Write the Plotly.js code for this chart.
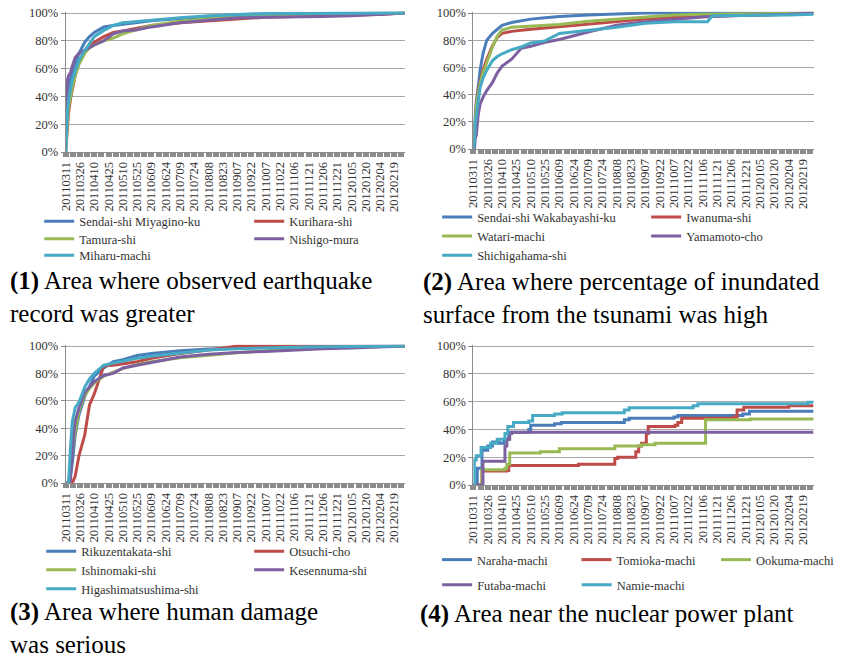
<!DOCTYPE html>
<html>
<head>
<meta charset="utf-8">
<script src="https://cdn.plot.ly/plotly-3.0.1.min.js"></script>
<style>html,body{margin:0;padding:0;background:#fff}#chart{width:856px;height:659px}</style>
</head>
<body>
<div id="chart"></div>
<script>
// ---------- DATA ----------
// sample dates for panels 1-3 (cumulative % of records)
const sampleDates = ['2011-03-11','2011-03-12','2011-03-13','2011-03-14','2011-03-16','2011-03-18','2011-03-21','2011-03-25','2011-03-31','2011-04-05','2011-04-10','2011-04-20','2011-04-30','2011-05-10','2011-05-25','2011-06-09','2011-07-09','2011-08-08','2011-09-07','2011-10-07','2011-11-06','2011-11-11','2011-11-16','2011-12-06','2012-01-05','2012-02-04','2012-03-01'];

// Panel 1
const p1Names = ['Sendai-shi Miyagino-ku','Kurihara-shi','Tamura-shi','Nishigo-mura','Miharu-machi'];
const p1Blue   = [0,22,33,42,52,58,64,71,79,83,86,90,91,92,93,94.5,96,97.5,99,99.5,99.7,99.7,99.7,99.8,99.9,100,100];
const p1Red    = [0,12,22,28,38,46,55,65,72,76,79,83,86,87,89,91,93,94.5,96,97,97.5,97.5,97.6,98,98.5,99,100];
const p1Green  = [0,15,25,32,40,47,55,63,71,75,77,80,82,85,88,91,94,96,97.5,98.5,99,99,99.1,99.3,99.5,99.8,100];
const p1Purple = [25,40,52,55,57,62,68,71,73,75,77,80,85,87,88,90,93,95,96.5,97,97,97,97.1,97.5,98,99,100];
const p1Cyan   = [0,20,30,37,45,52,58,66,73,78,83,87.5,91,93,94,95,96.5,98,99,99.5,99.7,99.7,99.7,99.8,99.9,100,100];

// Panel 2
const p2Names = ['Sendai-shi Wakabayashi-ku','Iwanuma-shi','Watari-machi','Yamamoto-cho','Shichigahama-shi'];
const p2Blue   = [10,20,28,35,45,58,70,80,85,88,91,93,94.5,95.5,96.5,97.5,98.5,99.5,100,100,100,100,100,100,100,100,100];
const p2Red    = [0,10,22,30,43,50,58,66,76,82,85,86.5,87.5,88,89,90,92,93.5,95.5,97,97.5,97.5,97.6,97.8,98,99,100];
const p2Green  = [0,12,24,31,40,48,56,64,75,83,87.5,89.5,90,90.3,90.7,91.5,94,95.5,97,98.5,99,99,99.1,99.3,99.5,99.8,100];
const p2Purple = [0,0,8,10,25,33,38,43,49,56,61,66,74,75.5,78.5,80.5,86,91,93.5,95.5,97,97.2,97.4,98,98.5,99,100];
const p2Cyan   = [0,5,18,25,35,45,52,58,65,68,70,73,75,78,79.5,85,87,89.5,92.5,93.5,93.5,93.5,98,98,98.5,98.5,99];

// Panel 3
const p3Names = ['Rikuzentakata-shi','Otsuchi-cho','Ishinomaki-shi','Kesennuma-shi','Higashimatsushima-shi'];
const p3Blue   = [0,0,0,0,5,15,35,50,63,71,78,84,88.5,90,93,94.5,96.5,97.8,98.7,99.2,99.5,99.5,99.6,99.7,99.8,99.9,100];
const p3Red    = [0,0,0,0,0,0,5,20,35,57,65,85.5,86,87,88.5,91,94.5,97,100,100,100,100,100,100,100,100,100];
const p3Green  = [0,0,0,0,10,25,37,53,64,69,73,78,81,83.5,86.5,88.5,91.5,93.5,95,96.5,97.5,97.7,98,98.5,99,99.5,100];
const p3Purple = [0,0,0,0,2,25,45,55,66,70,74,78.5,80,84,86,88.5,92,94,95.3,96,97,97.2,97.5,98,98.5,99.2,100];
const p3Cyan   = [0,0,0,0,25,45,55,59,70,76,80,86,87.5,89,91,92.5,95,97,98,98.7,99,99.1,99.2,99.4,99.6,99.8,100];

// Panel 4 (step series, own dates)
const p4Names = ['Naraha-machi','Tomioka-machi','Ookuma-machi','Futaba-machi','Namie-machi'];
const narahaDates = ['2011-03-11','2011-03-14','2011-03-15','2011-03-20','2011-03-26','2011-03-31','2011-04-07','2011-04-12','2011-04-17','2011-05-08','2011-05-10','2011-06-04','2011-06-11','2011-08-16','2011-08-21','2011-10-07','2011-10-11','2011-12-18','2011-12-25','2012-03-01'];
const narahaVals  = [0,0,12,25,28,31,30,33,38,40,43,44,45,47,48,49,50,51,53,53];
const tomiokaDates = ['2011-03-11','2011-03-19','2011-03-20','2011-04-15','2011-04-17','2011-06-29','2011-08-06','2011-08-09','2011-08-28','2011-08-31','2011-09-03','2011-09-08','2011-09-10','2011-10-08','2011-10-11','2011-10-15','2011-12-08','2011-12-12','2011-12-19','2012-02-04','2012-03-01'];
const tomiokaVals  = [0,0,10,10.5,14,15,19,20,24,28,30,37,42,43,45,48,49,54,56,57,57];
const ookumaDates = ['2011-03-11','2011-03-19','2011-03-20','2011-04-13','2011-04-15','2011-04-18','2011-05-20','2011-06-09','2011-08-06','2011-09-03','2011-09-17','2011-11-09','2011-12-26','2012-03-01'];
const ookumaVals  = [0,0,11,12,15,23,24,26,28,29,30,47,47.5,48];
const futabaDates = ['2011-03-11','2011-03-21','2011-04-13','2011-04-15','2011-04-18','2011-04-20','2012-03-01'];
const futabaVals  = [0,17,28,33,37,38,38];
const namieDates = ['2011-03-11','2011-03-12','2011-03-14','2011-03-19','2011-03-29','2011-04-05','2011-04-13','2011-04-16','2011-04-22','2011-05-08','2011-05-12','2011-06-04','2011-06-12','2011-08-16','2011-08-21','2011-10-27','2011-11-01','2012-02-24','2012-03-01'];
const namieVals  = [0,18,21,27,30,33,37,42,45,46,50,51,52,54,55.5,57,58.5,59.5,59.5];

const colors = ['#4A7EBB','#BE4B48','#98B954','#7D60A0','#46AAC5'];
const captions = [
  '<b>(1)</b> Area where observed earthquake<br>record was greater',
  '<b>(2)</b> Area where percentage of inundated<br>surface from the tsunami was high',
  '<b>(3)</b> Area where human damage<br>was serious',
  '<b>(4)</b> Area near the nuclear power plant'
];

// ---------- LAYOUT HELPERS ----------
const W = 856, H = 659;
const SERIF = '"Liberation Serif", "Times New Roman", serif';
const DAY = 86400000;
const axisGray = '#8c8c8c';
function small() { return {family: SERIF, size: 12.5, color: '#333333'}; }

function xAxis(px0, px1, anchor) {
  return {
    type: 'date', domain: [px0 / W, px1 / W], anchor: anchor,
    range: ['2011-03-11', '2012-03-01'],
    tickmode: 'linear', tick0: '2011-03-11', dtick: 15 * DAY, tickformat: '%Y%m%d', tickangle: -90,
    ticks: 'outside', ticklen: 4, tickwidth: 6.3, tickcolor: axisGray,
    minor: {ticks: 'outside', tick0: '2011-03-18 12:00', dtick: 15 * DAY, ticklen: 4, tickwidth: 6.3, tickcolor: axisGray, showgrid: false},
    showline: true, linecolor: axisGray, linewidth: 1,
    showgrid: false, zeroline: false, automargin: false, fixedrange: true,
    tickfont: small()
  };
}
function yAxis(pTop, pBottom, anchor) {
  const top = pTop - (pBottom - pTop) / 100; // room for 101
  return {
    domain: [1 - pBottom / H, 1 - top / H], anchor: anchor,
    range: [0, 101], tickmode: 'linear', tick0: 0, dtick: 20, ticksuffix: '%', showticksuffix: 'all',
    ticks: 'outside', ticklen: 4, tickcolor: axisGray,
    showline: true, linecolor: axisGray, linewidth: 1,
    showgrid: true, gridcolor: '#a8a8a8', gridwidth: 1,
    zeroline: false, automargin: false, fixedrange: true,
    tickfont: small()
  };
}
function legendRow(textX, rowY, entry) {
  return {
    x: (textX - 40) / W, y: 1 - rowY / H, xanchor: 'left', yanchor: 'middle',
    orientation: 'h', entrywidth: entry, entrywidthmode: 'pixels',
    font: small(), bgcolor: 'rgba(0,0,0,0)', borderwidth: 0, tracegroupgap: 0
  };
}

// ---------- TRACES ----------
const traces = [];
function addLine(x, y, name, color, ax, leg, shape) {
  traces.push({
    type: 'scatter', mode: 'lines', x: x, y: y, name: name,
    line: {color: color, width: 3, shape: shape || 'linear'},
    xaxis: 'x' + (ax === 1 ? '' : ax), yaxis: 'y' + (ax === 1 ? '' : ax),
    legend: leg, hoverinfo: 'skip'
  });
}
const p1 = [p1Blue, p1Red, p1Green, p1Purple, p1Cyan];
const p2 = [p2Blue, p2Red, p2Green, p2Purple, p2Cyan];
const p3 = [p3Blue, p3Red, p3Green, p3Purple, p3Cyan];
const rowLeg = (base, i) => base[Math.floor(i / 2)];
[[p1, p1Names, 1, ['legend', 'legend2', 'legend3']],
 [p2, p2Names, 2, ['legend4', 'legend5', 'legend6']],
 [p3, p3Names, 3, ['legend7', 'legend8', 'legend9']]].forEach(([vals, names, ax, legs]) => {
  vals.forEach((v, i) => addLine(sampleDates, v, names[i], colors[i], ax, rowLeg(legs, i)));
});
const p4x = [narahaDates, tomiokaDates, ookumaDates, futabaDates, namieDates];
const p4y = [narahaVals, tomiokaVals, ookumaVals, futabaVals, namieVals];
p4y.forEach((v, i) => addLine(p4x[i], v, p4Names[i], colors[i], 4, i < 3 ? 'legend10' : 'legend11', 'hv'));

// ---------- ANNOTATIONS ----------
function cap(text, px, py) {
  return {text: text, x: px / W, y: 1 - py / H, xref: 'paper', yref: 'paper',
          xanchor: 'left', yanchor: 'middle', showarrow: false, align: 'left',
          font: {family: SERIF, size: 25, color: '#000000'}};
}
const annotations = [
  cap(captions[0], 8, 297),
  cap(captions[1], 430, 298),
  cap(captions[2], 8, 628),
  cap(captions[3], 426, 614)
];

const layout = {
  width: W, height: H, margin: {l: 0, r: 0, t: 0, b: 0},
  paper_bgcolor: '#ffffff', plot_bgcolor: '#ffffff', showlegend: true,
  font: small(),
  xaxis: xAxis(67, 413, 'y'),   yaxis: yAxis(13, 152, 'x'),
  xaxis2: xAxis(483, 830, 'y2'), yaxis2: yAxis(13, 149, 'x2'),
  xaxis3: xAxis(67, 413, 'y3'),  yaxis3: yAxis(346, 483, 'x3'),
  xaxis4: xAxis(483, 830, 'y4'), yaxis4: yAxis(346, 485, 'x4'),
  legend: legendRow(80, 221.7, 165), legend2: legendRow(80, 239, 165), legend3: legendRow(80, 255.7, 165),
  legend4: legendRow(486, 217.3, 164), legend5: legendRow(486, 236.3, 164), legend6: legendRow(486, 255.7, 164),
  legend7: legendRow(82, 551.7, 163), legend8: legendRow(82, 570, 163), legend9: legendRow(82, 589, 163),
  legend10: legendRow(486, 560, 94.5), legend11: legendRow(486, 585, 94.5),
  annotations: annotations
};

Plotly.newPlot('chart', traces, layout, {displayModeBar: false, responsive: false});
</script>
</body>
</html>
